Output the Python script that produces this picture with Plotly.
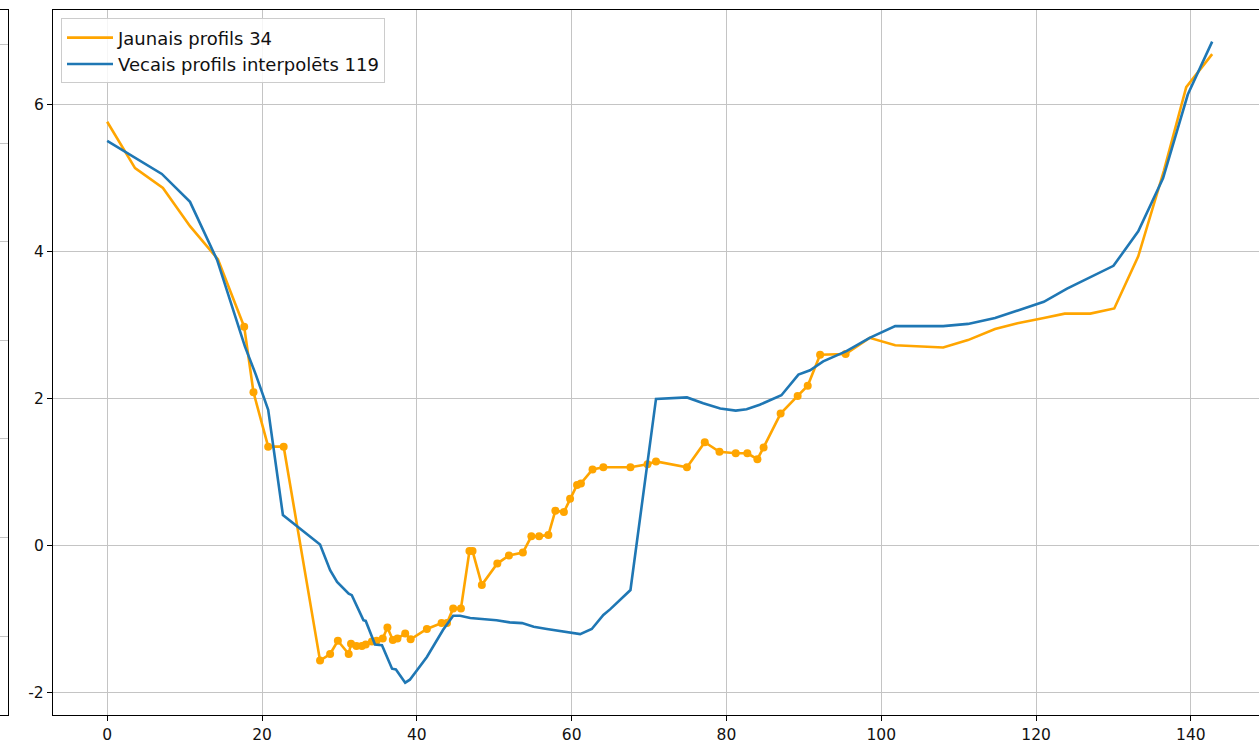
import numpy as np
import plotly.graph_objects as go

# ---------------- data ----------------
new_x = [0, 3.6, 7.2, 10.7, 14.3, 17.7, 18.9, 20.8, 22.8, 27.5, 28.8, 29.8, 31.2, 31.5,
         32.2, 32.9, 33.4, 34.2, 34.8, 35.6, 36.2, 36.9, 37.5, 38.5, 39.2, 41.3, 43.2,
         43.9, 44.7, 45.7, 46.8, 47.2, 48.4, 50.4, 51.9, 53.7, 54.8, 55.8, 57.0, 57.9,
         59.0, 59.8, 60.7, 61.2, 62.7, 64.1, 67.6, 69.8, 70.9, 74.9, 77.2, 79.1, 81.2,
         82.7, 84.0, 84.8, 87.0, 89.2, 90.5, 92.1, 95.4, 98.5, 101.8, 108.0, 111.2,
         114.7, 117.6, 121.0, 123.7, 127.0, 130.1, 133.2, 136.5, 139.4, 142.75]
new_y = [5.77, 5.14, 4.87, 4.35, 3.90, 2.98, 2.09, 1.35, 1.35, -1.56, -1.47, -1.29, -1.47,
         -1.33, -1.36, -1.36, -1.34, -1.30, -1.29, -1.26, -1.11, -1.28, -1.26, -1.19,
         -1.27, -1.13, -1.05, -1.05, -0.85, -0.85, -0.07, -0.07, -0.53, -0.24, -0.13,
         -0.09, 0.13, 0.13, 0.15, 0.48, 0.46, 0.64, 0.83, 0.85, 1.04, 1.07, 1.07, 1.11,
         1.15, 1.07, 1.41, 1.28, 1.26, 1.26, 1.18, 1.34, 1.80, 2.04, 2.18, 2.60, 2.61,
         2.83, 2.73, 2.70, 2.80, 2.95, 3.03, 3.10, 3.16, 3.16, 3.23, 3.94, 5.10, 6.24, 6.69]
# range of x where the measured points are marked
marked_range = [17.0, 96.0]

old_x = [0, 7.06, 10.7, 14.2, 17.8, 19.2, 20.8, 22.7, 27.5, 28.8, 29.7, 31.2, 31.6, 32.2,
         33.1, 33.4, 34.6, 35.5, 36.8, 37.3, 38.5, 39.1, 41.3, 43.4, 44.7, 45.6, 46.9,
         50.3, 52.0, 53.6, 55.1, 56.8, 58.5, 60.0, 61.1, 62.6, 64.1, 65.0, 67.6, 70.9,
         74.9, 77.0, 79.2, 81.2, 82.6, 84.3, 87.1, 89.3, 90.8, 92.5, 95.5, 98.5, 101.8,
         108.0, 111.2, 114.7, 117.6, 121.0, 124.0, 127.0, 130.0, 133.2, 136.4, 139.6, 142.75]
old_y = [5.51, 5.06, 4.68, 3.89, 2.71, 2.33, 1.85, 0.42, 0.02, -0.33, -0.49, -0.65, -0.67,
         -0.80, -1.01, -1.02, -1.34, -1.35, -1.67, -1.68, -1.86, -1.82, -1.51, -1.14,
         -0.95, -0.95, -0.98, -1.01, -1.04, -1.05, -1.10, -1.13, -1.16, -1.18, -1.20,
         -1.13, -0.94, -0.86, -0.60, 2.00, 2.02, 1.94, 1.87, 1.84, 1.86, 1.92, 2.05,
         2.33, 2.39, 2.51, 2.65, 2.83, 2.99, 2.99, 3.02, 3.10, 3.20, 3.32, 3.50, 3.65,
         3.81, 4.28, 5.00, 6.14, 6.86]

x_ticks = [0, 20, 40, 60, 80, 100, 120, 140]
y_ticks = [-2, 0, 2, 4, 6]
x_range = [-7.0, 148.8]
y_range = [-2.30, 7.29]

# cropped neighbouring panel on the far left (only its gridlines remain visible)
left_panel_grid = [1, 2, 3, 4, 5, 6, 7]
left_panel_range = [0.2, 7.35]

ORANGE = "#FFA500"
BLUE = "#1f77b4"
FONT = "DejaVu Sans"

W, H = 1259, 744
plot_left = 53

nx = np.array(new_x)
ny = np.array(new_y)
mask = (nx >= marked_range[0]) & (nx <= marked_range[1])

fig = go.Figure()
fig.add_trace(go.Scatter(x=new_x, y=new_y, mode="lines", name="Jaunais profils 34",
                         line=dict(color=ORANGE, width=2.6)))
fig.add_trace(go.Scatter(x=nx[mask], y=ny[mask], mode="markers", showlegend=False,
                         marker=dict(color=ORANGE, size=8)))
fig.add_trace(go.Scatter(x=old_x, y=old_y, mode="lines", name="Vecais profils interpolēts 119",
                         line=dict(color=BLUE, width=2.6)))

# invisible trace for the cropped left panel
fig.add_trace(go.Scatter(x=[0], y=[left_panel_grid[0]], xaxis="x2", yaxis="y2",
                         mode="markers", marker=dict(opacity=0), showlegend=False,
                         hoverinfo="skip"))

axis_common = dict(showline=True, linecolor="black", linewidth=1.3,
                   gridcolor="#c4c4c4", gridwidth=1.3, zeroline=False,
                   ticks="outside", ticklen=5, tickwidth=1.2, tickcolor="black",
                   tickfont=dict(family=FONT, size=15.5, color="#111111"))

fig.update_layout(
    width=W, height=H,
    margin=dict(l=0, r=0, t=10, b=29),
    paper_bgcolor="white", plot_bgcolor="white",
    font=dict(family=FONT, color="#111111"),
    xaxis=dict(domain=[plot_left / W, 1], range=x_range, tickvals=x_ticks,
               ticktext=[f"{v:g}" for v in x_ticks],
               mirror=True, anchor="y", **axis_common),
    yaxis=dict(range=y_range, tickvals=y_ticks, ticktext=[f"{v:g}" for v in y_ticks],
               anchor="x", **axis_common),
    xaxis2=dict(domain=[0, 8 / W], range=[0, 1], showline=True, mirror=True,
                linecolor="black", linewidth=1.3, showgrid=False, zeroline=False,
                showticklabels=False, ticks="", anchor="y2"),
    yaxis2=dict(range=left_panel_range, tickvals=left_panel_grid, side="right",
                showline=True, linecolor="black", linewidth=1.3, showgrid=True,
                gridcolor="#c4c4c4", gridwidth=1.3, zeroline=False,
                showticklabels=False, ticks="", anchor="x2"),
    legend=dict(x=61 / W, y=0.988, xanchor="left", yanchor="top",
                bgcolor="rgba(255,255,255,0.85)", bordercolor="#cccccc", borderwidth=1,
                font=dict(family=FONT, size=18, color="#111111"),
                itemwidth=46, tracegroupgap=2),
    showlegend=True,
)

fig.write_html("out.html",
               config={"displayModeBar": False},
               post_script="document.body.style.margin='0px';"
                           "document.body.style.overflow='hidden';")
